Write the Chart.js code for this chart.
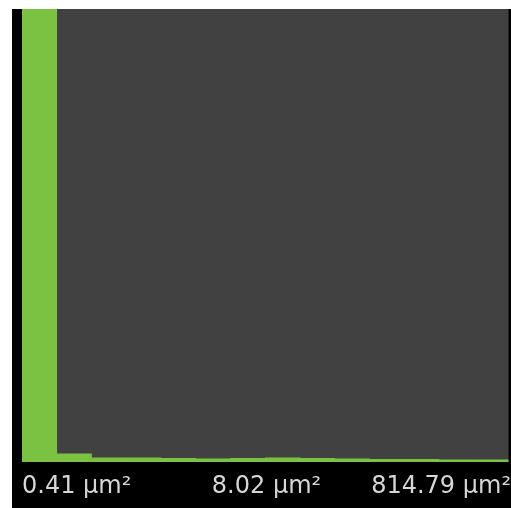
<!DOCTYPE html>
<html>
<head>
<meta charset="utf-8">
<script src="https://cdn.jsdelivr.net/npm/chart.js@4"></script>
<style>
  html, body { margin: 0; padding: 0; background: #ffffff; }
  #wrap { width: 511px; height: 508px; position: relative; }
</style>
</head>
<body>
<div id="wrap"><canvas id="histChart"></canvas></div>
<script>
// histogram bins (relative counts), first bin dominates
const binNames = ["b1", "b2", "b3", "b4", "b5", "b6", "b7", "b8", "b9", "b10", "b11", "b12", "b13", "b14"];
const binCounts = [100, 1.8, 0.9, 0.9, 0.8, 0.7, 0.8, 0.9, 0.8, 0.7, 0.6, 0.6, 0.5, 0.5];
// area labels under the axis: start, middle, end
const tickValues = [0, 0.5, 1];
const tickLabels = ["0.41 µm²", "8.02 µm²", "814.79 µm²"];

// black frame + dark plot background
const frameBg = {
    id: "frameBg",
    beforeDraw(chart) {
        const ctx = chart.ctx;
        const a = chart.chartArea;
        ctx.save();
        ctx.fillStyle = "#ffffff";
        ctx.fillRect(0, 0, chart.width, chart.height);
        ctx.fillStyle = "#000000";
        ctx.fillRect(12, 9, chart.width - 12, chart.height - 9);
        ctx.fillStyle = "#414141";
        ctx.fillRect(a.left, a.top, a.right - a.left, a.bottom - a.top);
        ctx.restore();
    }
};

const ctx = document.getElementById("histChart").getContext("2d");
new Chart(ctx, {
    type: "bar",
    data: {
        labels: binNames,
        datasets: [{
            data: binCounts,
            backgroundColor: "#7cc242",
            borderWidth: 0,
            categoryPercentage: 1,
            barPercentage: 1,
            xAxisID: "x",
            yAxisID: "y"
        }]
    },
    options: {
        responsive: true,
        maintainAspectRatio: false,
        animation: false,
        layout: { padding: { left: 22, top: 9, right: 0, bottom: -4 } },
        plugins: {
            legend: { display: false },
            tooltip: { enabled: false }
        },
        scales: {
            x: { display: false },
            y: { display: false, min: 0, max: 100 },
            xLabels: {
                type: "linear",
                position: "bottom",
                offset: false,
                min: 0,
                max: 0.995, // last label runs slightly past the right edge, as in the original
                grid: { display: false, drawTicks: false },
                border: { display: false },
                afterBuildTicks: function (axis) {
                    axis.ticks = tickValues.map(v => ({ value: v }));
                },
                ticks: {
                    align: "inner",
                    autoSkip: false,
                    maxRotation: 0,
                    padding: 0,
                    color: "#d6d6d6",
                    font: { family: "'DejaVu Sans', sans-serif", size: 24, lineHeight: "50px" },
                    callback: function (value, index) {
                        return tickLabels[index];
                    }
                }
            }
        }
    },
    plugins: [frameBg]
});
</script>
</body>
</html>
